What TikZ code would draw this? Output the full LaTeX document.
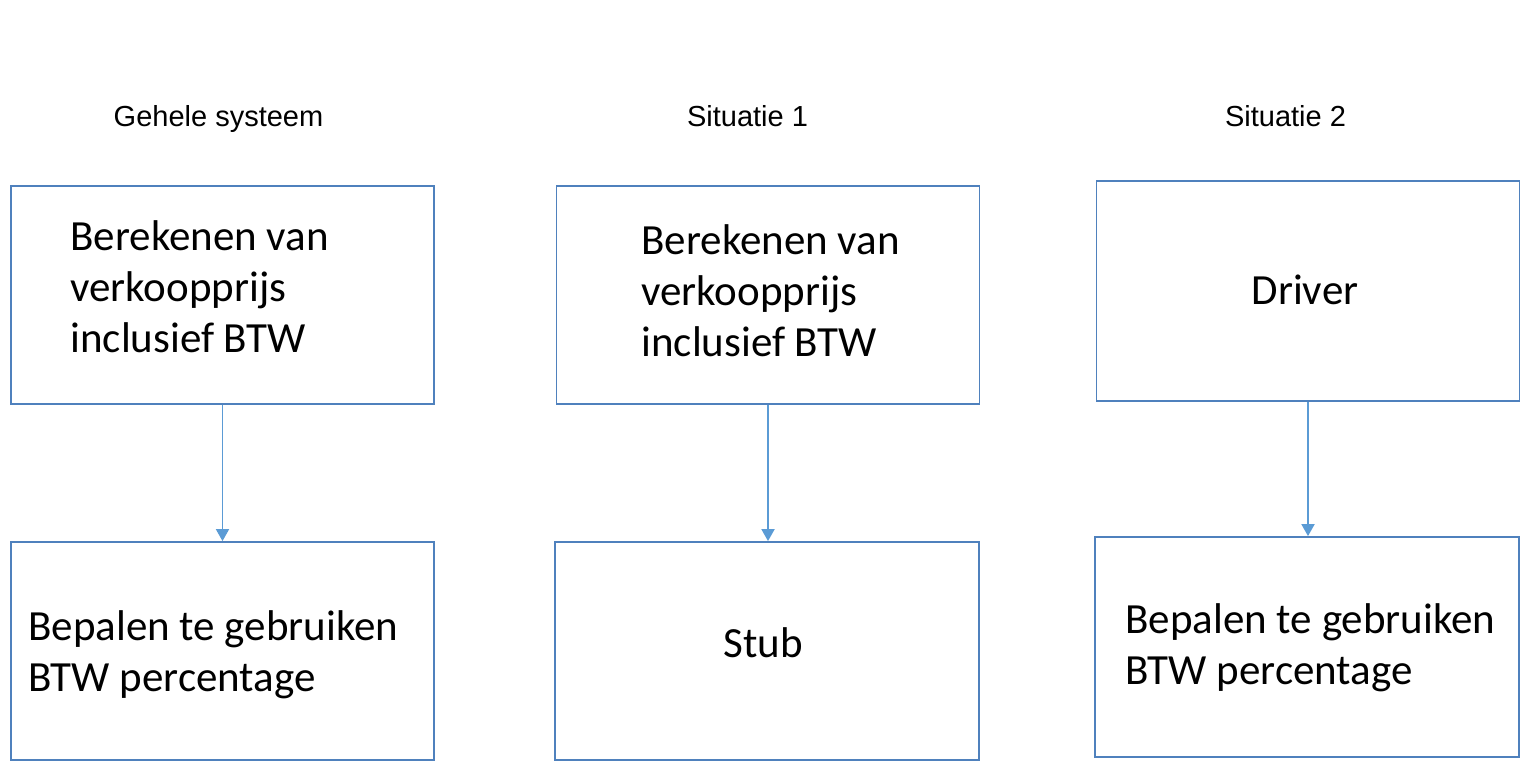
\documentclass[tikz,border=0pt]{standalone}
\usepackage{fontspec}
\setmainfont{Carlito}
\newfontfamily\titlefont{Liberation Sans}
\usetikzlibrary{arrows.meta,positioning}
\definecolor{boxblue}{RGB}{79,129,189}
\definecolor{arrowblue}{RGB}{91,155,213}
\begin{document}
\begin{tikzpicture}[x=0.5pt,y=-0.5pt,
    box/.style={draw=boxblue,line width=0.9pt,minimum width=211.5pt,minimum height=109pt,inner sep=0pt},
    txt/.style={align=left,inner sep=0pt,font=\fontsize{21.5}{25.4}\selectfont},
    title/.style={anchor=base,font=\titlefont\fontsize{14.5}{17}\selectfont},
    >={Triangle[width=6.5pt,length=6pt]}]
    \useasboundingbox (0,0) rectangle (1521,762);
    % titles
    \node[title] (gs) at (218.5,126.5) {Gehele systeem};
    \node[title] (s1) at (747.5,126.5) {Situatie 1};
    \node[title] (s2) at (1285.5,126.5) {Situatie 2};
    % gehele systeem
    \node[box] (gstop) at (222.5,295) {};
    \node[txt,anchor=west] (gstoptext) at (70,287) {Berekenen van\\verkoopprijs\\inclusief BTW};
    \node[box] (gsbot) at (222.5,651) {};
    \node[txt,anchor=west] (gsbottext) at (28,655) {Bepalen te gebruiken\\BTW percentage};
    % situatie 1
    \node[box] (s1top) at (768,295) {};
    \node[txt,anchor=west] (s1toptext) at (641,291) {Berekenen van\\verkoopprijs\\inclusief BTW};
    \node[box,minimum width=212pt] (s1bot) at (767,651) {};
    \node[txt] (s1bottext) at (763,643) {Stub};
    % situatie 2
    \node[box,minimum height=110pt] (s2top) at (1308,291) {};
    \node[txt] (s2toptext) at (1305,290) {Driver};
    \node[box,minimum width=212pt,minimum height=110pt] (s2bot) at (1307,647) {};
    \node[txt,anchor=west] (s2bottext) at (1125,648) {Bepalen te gebruiken\\BTW percentage};
    \draw[->,arrowblue,line width=0.9pt] (gstop) -- (gsbot);
    \draw[->,arrowblue,line width=0.9pt] (s1top) -- (s1top |- s1bot.north);
    \draw[->,arrowblue,line width=0.9pt] (s2top) -- (s2top |- s2bot.north);
\end{tikzpicture}
\end{document}
